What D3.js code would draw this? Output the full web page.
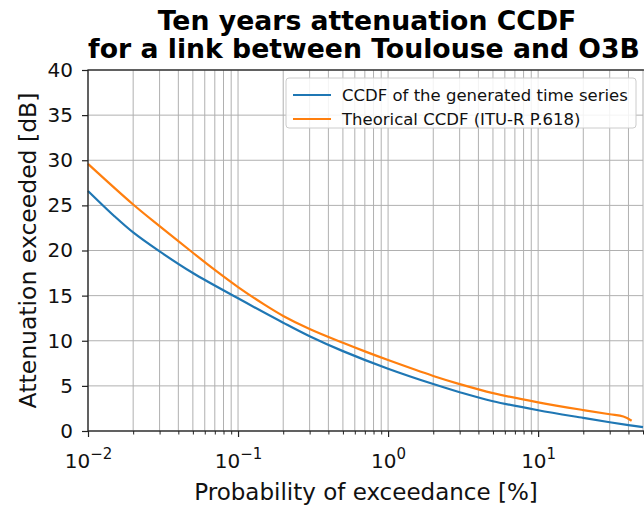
<!DOCTYPE html>
<html><head><meta charset="utf-8">
<script src="https://cdn.jsdelivr.net/npm/d3@7"></script>
<style>body{margin:0;background:#fff;} svg{display:block;font-family:"DejaVu Sans",sans-serif;}</style>
</head><body><svg id="c" width="644" height="505"></svg>
<script>
const xTicks = [0.01, 0.1, 1, 10];
const xTickExp = ["\u22122", "\u22121", "0", "1"];
const yTicks = [0, 5, 10, 15, 20, 25, 30, 35, 40];
const seriesNames = ["CCDF of the generated time series", "Theorical CCDF (ITU-R P.618)"];
const generatedP = [0.01, 0.015, 0.02, 0.03, 0.05, 0.1, 0.2, 0.3, 0.5, 1, 2, 3, 5, 10, 20, 30, 40, 50];
const generatedA = [26.6, 23.8, 22.0, 19.9, 17.5, 14.7, 12.0, 10.5, 8.85, 6.9, 5.2, 4.3, 3.3, 2.3, 1.45, 0.97, 0.66, 0.42];
const theoryP = [0.01, 0.02, 0.03, 0.05, 0.07, 0.1, 0.15, 0.2, 0.3, 0.5, 0.7, 1, 2, 3, 5, 10, 20, 30, 37, 42];
const theoryA = [29.6, 25.1, 22.7, 19.75, 17.85, 15.95, 14.0, 12.75, 11.3, 9.77, 8.82, 7.86, 6.1, 5.2, 4.2, 3.18, 2.32, 1.86, 1.6, 1.14];
const colors = ["#1f77b4", "#ff7f0e"];

const svg = d3.select("#c");
const L = 88, R = 643, T = 70, B = 431;
const x = d3.scaleLog().domain([0.01, 50]).range([L, R]);
const y = d3.scaleLinear().domain([0, 40]).range([B, T]);

// grid
const minor = [];
for (let e = -2; e <= 1; e++) for (let m = 2; m <= 9; m++) { const v = m * Math.pow(10, e); if (v <= 50) minor.push(v); }
const g = svg.append("g");
g.selectAll(".gx").data(xTicks.concat(minor)).enter().append("line")
  .attr("x1", d => x(d)).attr("x2", d => x(d)).attr("y1", T).attr("y2", B)
  .attr("stroke", "#b0b0b0").attr("stroke-width", 1);
g.selectAll(".gy").data(yTicks).enter().append("line")
  .attr("x1", L).attr("x2", R).attr("y1", d => y(d)).attr("y2", d => y(d))
  .attr("stroke", "#b0b0b0").attr("stroke-width", 1);

// lines
const line = d3.line().x(d => x(d[0])).y(d => y(d[1])).curve(d3.curveCatmullRom.alpha(0.5));
svg.append("path").datum(d3.zip(generatedP, generatedA)).attr("d", line)
  .attr("fill", "none").attr("stroke", colors[0]).attr("stroke-width", 2.2);
svg.append("path").datum(d3.zip(theoryP, theoryA)).attr("d", line)
  .attr("fill", "none").attr("stroke", colors[1]).attr("stroke-width", 2.2);

// frame
svg.append("rect").attr("x", L).attr("y", T).attr("width", R - L + 5).attr("height", B - T)
  .attr("fill", "none").attr("stroke", "#222").attr("stroke-width", 1.3);

// x axis
const xa = svg.append("g").attr("transform", `translate(0,${B})`)
  .call(d3.axisBottom(x).tickValues(xTicks).tickSize(6).tickFormat(""));
xa.select(".domain").remove();
xa.selectAll(".tick line").attr("stroke", "#222").attr("stroke-width", 1.2);
xa.selectAll(".tick").each(function(d, i) {
  const t = d3.select(this).append("text").attr("y", 37).attr("fill", "#111")
    .attr("text-anchor", "middle").attr("font-size", 20).attr("font-family", "DejaVu Sans");
  t.append("tspan").text("10");
  t.append("tspan").attr("dy", -9).attr("font-size", 15).text(xTickExp[i]);
});
const xm = svg.append("g").attr("transform", `translate(0,${B})`)
  .call(d3.axisBottom(x).tickValues(minor).tickSize(3.5).tickFormat(""));
xm.select(".domain").remove();
xm.selectAll(".tick line").attr("stroke", "#222");

// y axis
const ya = svg.append("g").attr("transform", `translate(${L},0)`)
  .call(d3.axisLeft(y).tickValues(yTicks).tickSize(6).tickPadding(9));
ya.select(".domain").remove();
ya.selectAll(".tick line").attr("stroke", "#222").attr("stroke-width", 1.2);
ya.selectAll("text").attr("font-size", 20).attr("fill", "#111").attr("font-family", "DejaVu Sans");

// axis labels
svg.append("text").attr("x", 366).attr("y", 500).attr("text-anchor", "middle")
  .attr("font-size", 23).attr("fill", "#111").text("Probability of exceedance [%]");
svg.append("text").attr("transform", `translate(36,${(T + B) / 2}) rotate(-90)`).attr("text-anchor", "middle")
  .attr("font-size", 23.5).attr("fill", "#111").text("Attenuation exceeded [dB]");

// title
svg.append("text").attr("x", 367).attr("y", 30).attr("text-anchor", "middle")
  .attr("font-size", 26.7).attr("font-weight", "bold").attr("fill", "#000").text("Ten years attenuation CCDF");
svg.append("text").attr("x", 364).attr("y", 58).attr("text-anchor", "middle")
  .attr("font-size", 26.7).attr("font-weight", "bold").attr("fill", "#000").text("for a link between Toulouse and O3B");

// legend
const lg = svg.append("g");
lg.append("rect").attr("x", 286).attr("y", 78).attr("width", 350).attr("height", 50).attr("rx", 3)
  .attr("fill", "rgba(255,255,255,0.85)").attr("stroke", "#ccc");
seriesNames.forEach((n, i) => {
  const yy = 95 + i * 24;
  lg.append("line").attr("x1", 293).attr("x2", 331).attr("y1", yy).attr("y2", yy)
    .attr("stroke", colors[i]).attr("stroke-width", 2.2);
  lg.append("text").attr("x", 342).attr("y", yy + 6).attr("font-size", 16.5).attr("fill", "#111").text(n);
});
</script></body></html>
